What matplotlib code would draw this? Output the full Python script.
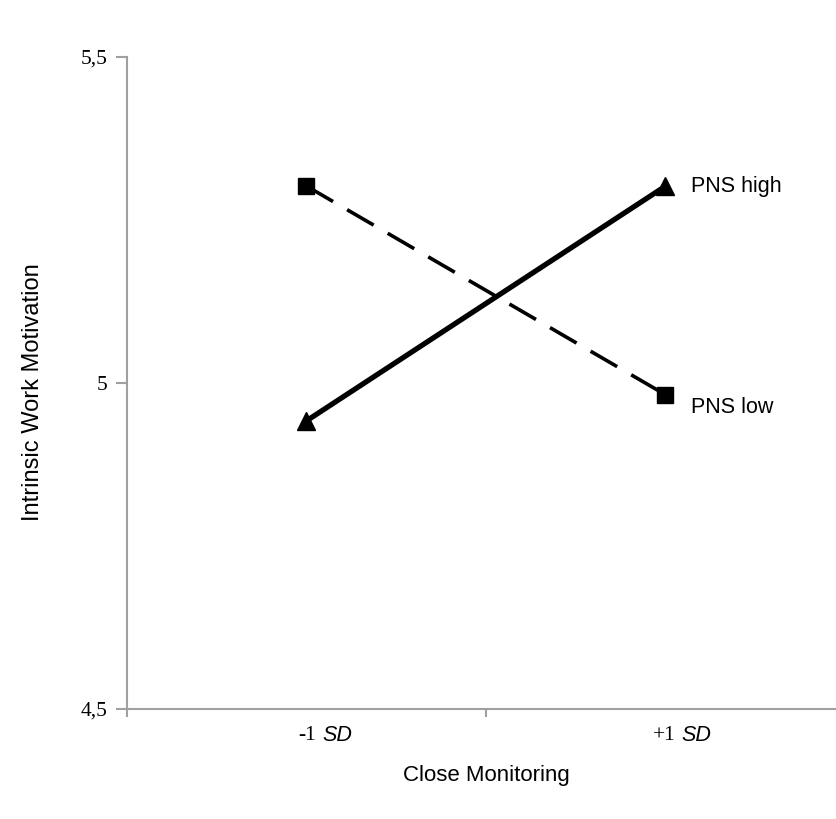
import matplotlib
matplotlib.use("Agg")
import matplotlib.pyplot as plt

categories = ["-1", "+1"]
cat_suffix = "SD"
pns_high = [4.942, 5.302]
pns_low = [5.302, 4.982]
series_labels = ["PNS high", "PNS low"]
yticks = [4.5, 5.0, 5.5]
ytick_labels = ["4,5", "5", "5,5"]

fig = plt.figure(figsize=(8.37, 8.19), dpi=100)
fig.patch.set_facecolor("white")
ax = fig.add_axes([127/837, 1-709/819, 718/837, 652/819])
ax.set_facecolor("white")

x = [0.5, 1.5]
ax.plot(x, pns_low, color="black", lw=2.6, dashes=(8.5, 4.5),
        marker="s", markersize=11.5, solid_capstyle="butt", zorder=3)
ax.plot(x, pns_high, color="black", lw=3.8, marker="^", markersize=13.5, zorder=4)

ax.set_xlim(0, 2)
ax.set_ylim(4.5, 5.5)

for s in ["top", "right"]:
    ax.spines[s].set_visible(False)
for s in ["left", "bottom"]:
    ax.spines[s].set_color("#a0a0a0")
    ax.spines[s].set_linewidth(1.5)

ax.set_yticks(yticks)
ax.set_yticklabels(ytick_labels, family="Liberation Serif", fontsize=15.5)
ax.tick_params(axis="y", direction="out", length=8, width=1.5, color="#a0a0a0", pad=6)
ax.set_xticks([0, 1])
ax.set_xticklabels(["", ""])
ax.tick_params(axis="x", direction="out", length=6, width=1.5, color="#a0a0a0")

# category labels: serif number + italic sans "SD"
for xi, c in zip(x, categories):
    ax.annotate(c, xy=(xi, 0), xycoords=("data", "axes fraction"),
                xytext=(7, -19), textcoords="offset points",
                ha="right", va="center", family="Liberation Serif", fontsize=15.5)
    ax.annotate(cat_suffix, xy=(xi, 0), xycoords=("data", "axes fraction"),
                xytext=(11.8, -19), textcoords="offset points",
                ha="left", va="center", family="Liberation Sans", style="italic", fontsize=15.5)

ax.annotate(series_labels[0], xy=(x[1], pns_high[1]), xytext=(18.7, -4.3),
            textcoords="offset points", ha="left", va="baseline",
            family="Liberation Sans", fontsize=15.5)
ax.annotate(series_labels[1], xy=(x[1], pns_low[1]), xytext=(18.7, -13),
            textcoords="offset points", ha="left", va="baseline",
            family="Liberation Sans", fontsize=15.5)

ax.set_xlabel("Close Monitoring", family="Liberation Sans", fontsize=16)
ax.xaxis.set_label_coords(0.5, -(776-709)/652)
ax.xaxis.label.set_va("center")
ax.set_ylabel("Intrinsic Work Motivation", family="Liberation Sans", fontsize=17)
ax.yaxis.set_label_coords((33-127)/718, (709-392)/652)
ax.yaxis.label.set_va("center")

fig.savefig("out.png", dpi=100, facecolor="white")
